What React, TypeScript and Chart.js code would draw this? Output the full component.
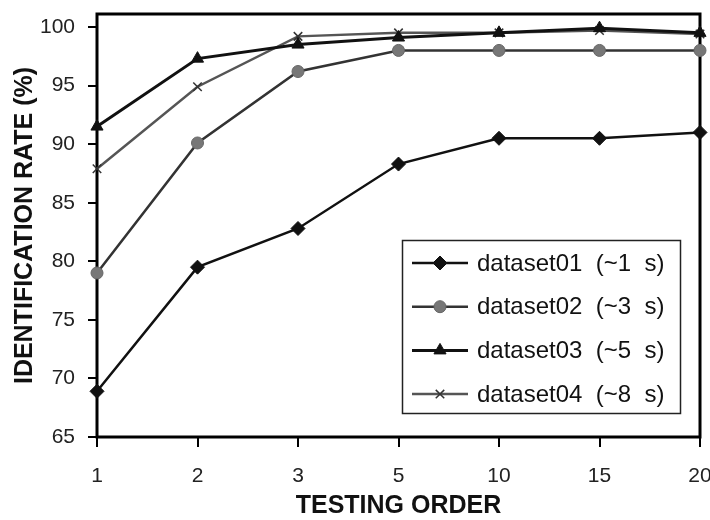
import React, { useEffect, useRef } from 'react';
import { Chart, registerables } from 'chart.js';
import { drawPoint } from 'chart.js/helpers';

Chart.register(...registerables);

const categories = ['1', '2', '3', '5', '10', '15', '20'];
const dataset01 = [68.9, 79.5, 82.8, 88.3, 90.5, 90.5, 91.0];
const dataset02 = [79.0, 90.1, 96.2, 98.0, 98.0, 98.0, 98.0];
const dataset03 = [91.5, 97.3, 98.5, 99.1, 99.5, 99.9, 99.5];
const dataset04 = [87.9, 94.9, 99.2, 99.5, 99.5, 99.7, 99.4];
const seriesLabels = ['dataset01  (~1  s)', 'dataset02  (~3  s)', 'dataset03  (~5  s)', 'dataset04  (~8  s)'];
const yTickValues = [65, 70, 75, 80, 85, 90, 95, 100];
const yTitle = 'IDENTIFICATION RATE (%)';
const xTitle = 'TESTING ORDER';

const FONT = 'Arial, "Liberation Sans", sans-serif';

const framePlugin = {
  id: 'frame',
  beforeDatasetsDraw(chart: any) {
    const { ctx, chartArea } = chart;
    ctx.save();
    ctx.strokeStyle = '#000';
    ctx.lineWidth = 3;
    ctx.strokeRect(chartArea.left, chartArea.top, chartArea.right - chartArea.left, chartArea.bottom - chartArea.top);
    ctx.restore();
  },
};

const legendPlugin = {
  id: 'boxLegend',
  afterDatasetsDraw(chart: any) {
    const ctx = chart.ctx;
    ctx.save();
    ctx.fillStyle = '#fff';
    ctx.fillRect(402, 240, 278, 173);
    ctx.strokeStyle = '#222';
    ctx.lineWidth = 1.5;
    ctx.strokeRect(402.5, 240.5, 278, 173);
    chart.data.datasets.forEach((ds: any, i: number) => {
      const y = 263 + i * 43.7;
      ctx.strokeStyle = ds.borderColor;
      ctx.lineWidth = ds.borderWidth;
      ctx.beginPath();
      ctx.moveTo(412, y);
      ctx.lineTo(468, y);
      ctx.stroke();
      ctx.fillStyle = ds.pointBackgroundColor;
      ctx.strokeStyle = ds.pointBorderColor;
      ctx.lineWidth = ds.pointBorderWidth;
      drawPoint(ctx, { pointStyle: ds.pointStyle, radius: ds.pointRadius, borderWidth: ds.pointBorderWidth, rotation: 0 } as any, 440, y);
      ctx.fillStyle = '#111';
      ctx.font = '24px ' + FONT;
      ctx.textBaseline = 'middle';
      ctx.textAlign = 'left';
      ctx.fillText(ds.label, 477, y + 1);
    });
    ctx.restore();
  },
};

export default function App() {
  const ref = useRef<HTMLCanvasElement>(null);
  useEffect(() => {
    if (!ref.current) return;
    const chart = new Chart(ref.current, {
      type: 'line',
      data: {
        labels: categories,
        datasets: [
          {
            label: seriesLabels[0],
            data: dataset01,
            borderColor: '#111',
            borderWidth: 2.5,
            pointStyle: 'rectRot',
            pointRadius: 7,
            pointBackgroundColor: '#111',
            pointBorderColor: '#111',
            pointBorderWidth: 1,
            clip: false,
          },
          {
            label: seriesLabels[1],
            data: dataset02,
            borderColor: '#333',
            borderWidth: 2.5,
            pointStyle: 'circle',
            pointRadius: 6,
            pointBackgroundColor: '#777',
            pointBorderColor: '#666',
            pointBorderWidth: 1,
            clip: false,
          },
          {
            label: seriesLabels[2],
            data: dataset03,
            borderColor: '#111',
            borderWidth: 3,
            pointStyle: 'triangle',
            pointRadius: 7,
            pointBackgroundColor: '#111',
            pointBorderColor: '#111',
            pointBorderWidth: 1,
            clip: false,
          },
          {
            label: seriesLabels[3],
            data: dataset04,
            borderColor: '#555',
            borderWidth: 2.5,
            pointStyle: 'crossRot',
            pointRadius: 6,
            pointBackgroundColor: '#555',
            pointBorderColor: '#333',
            pointBorderWidth: 1.5,
            clip: false,
          },
        ] as any,
      },
      options: {
        animation: false,
        responsive: false,
        events: [],
        layout: { padding: { top: 14, right: 10, left: 0, bottom: 0 } },
        plugins: { legend: { display: false }, tooltip: { enabled: false } },
        scales: {
          x: {
            type: 'category',
            offset: false,
            border: { display: false },
            grid: { display: true, drawOnChartArea: false, drawTicks: true, tickLength: 10, color: '#000', lineWidth: 2 },
            ticks: { color: '#222', font: { family: FONT, size: 21 }, padding: 17, maxRotation: 0, autoSkip: false },
            title: { display: true, text: xTitle, color: '#111', font: { family: FONT, size: 25, weight: 'bold', lineHeight: 1 }, padding: { top: 0, bottom: 1 } },
            afterFit: (s: any) => {
              s.height = 83;
              s.paddingLeft = 0;
              s.paddingRight = 0;
            },
          },
          y: {
            type: 'linear',
            min: 65,
            max: 101.11,
            border: { display: false },
            grid: { display: true, drawOnChartArea: false, drawTicks: true, tickLength: 9, color: '#000', lineWidth: 2 },
            ticks: { color: '#222', font: { family: FONT, size: 21 }, padding: 13 },
            afterBuildTicks: (s: any) => {
              s.ticks = yTickValues.map((v) => ({ value: v }));
            },
            title: { display: true, text: yTitle, color: '#111', font: { family: FONT, size: 25, weight: 'bold', lineHeight: 1 }, padding: { top: 12.5, bottom: 0 } },
            afterFit: (s: any) => {
              s.width = 97;
              s.paddingTop = 0;
              s.paddingBottom = 0;
            },
          },
        },
      } as any,
      plugins: [framePlugin, legendPlugin],
    });
    return () => chart.destroy();
  }, []);
  return (
    <div style={{ position: 'absolute', left: 0, top: 0, width: 710, height: 520, background: '#fff' }}>
      <canvas ref={ref} width={710} height={520} />
    </div>
  );
}
